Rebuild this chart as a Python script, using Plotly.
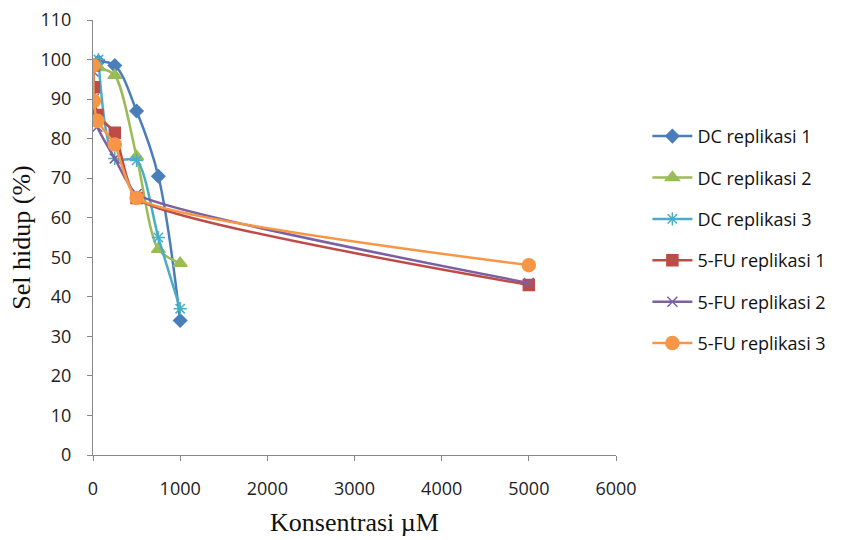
import plotly.graph_objects as go

dc_x = [62.5, 250, 500, 750, 1000]
dc1 = [99.5, 98.5, 87, 70.5, 34]
dc2 = [98, 96, 75.5, 52, 48.5]
dc3 = [100, 75, 74.5, 55, 37]

fu_x = [5, 10, 50, 250, 500, 5000]
fu1 = [98.5, 93, 86, 81.5, 65, 43]
fu2 = [97, 90, 83, 75, 66, 43.5]
fu3 = [98.5, 89.5, 84.5, 78.5, 65, 48]

series = [
    ("DC replikasi 1", dc_x, dc1, "#4A7EBB", "diamond", 10, 1.0),
    ("DC replikasi 2", dc_x, dc2, "#9BBB59", "triangle-up", 12, 0.8),
    ("DC replikasi 3", dc_x, dc3, "#4BACC6", "asterisk-open", 11, 0.8),
    ("5-FU replikasi 1", fu_x, fu1, "#BE4B48", "square", 11, 0.5),
    ("5-FU replikasi 2", fu_x, fu2, "#7D60A0", "x-thin-open", 10, 0.5),
    ("5-FU replikasi 3", fu_x, fu3, "#F79646", "circle", 13, 0.5),
]

fig = go.Figure()
for i, (name, xs, ys, col, sym, sz, sm) in enumerate(series):
    fig.add_trace(go.Scatter(
        x=xs, y=ys, name=name, mode="lines+markers",
        line=dict(color=col, width=2.5, shape="spline", smoothing=sm),
        marker=dict(symbol=sym, size=sz, color=col, line=dict(color=col, width=1.5)),
        legendgroup=str(i),
    ))

tickfont = dict(family="Open Sans, Liberation Sans, sans-serif", size=18, color="#222")
titlefont = dict(family="Liberation Serif, serif", size=26, color="#111")
fig.update_layout(
    width=841, height=540,
    margin=dict(l=93, r=225, t=20, b=85, autoexpand=False),
    paper_bgcolor="white", plot_bgcolor="white",
    showlegend=True,
    legend=dict(x=1.06, y=0.775, xanchor="left", yanchor="top",
                font=dict(family="Open Sans, Liberation Sans, sans-serif", size=18, color="#111"),
                tracegroupgap=15, itemwidth=40, bgcolor="rgba(0,0,0,0)"),
    xaxis=dict(range=[0, 6000], tickvals=[0, 1000, 2000, 3000, 4000, 5000, 6000],
               showline=True, linecolor="#888", linewidth=1, ticks="outside", ticklen=5,
               tickcolor="#888", showgrid=False, zeroline=False, tickfont=tickfont,
               ticklabelstandoff=12, automargin=False,
               title=dict(text="Konsentrasi µM", font=titlefont, standoff=14)),
    yaxis=dict(range=[0, 110], tickvals=list(range(0, 111, 10)),
               showline=True, linecolor="#888", linewidth=1, ticks="outside", ticklen=5,
               tickcolor="#888", showgrid=False, zeroline=False, tickfont=tickfont,
               ticklabelstandoff=12, automargin=False,
               title=dict(text="Sel hidup (%)", font=titlefont, standoff=2)),
)

fig.write_html("out.html")
